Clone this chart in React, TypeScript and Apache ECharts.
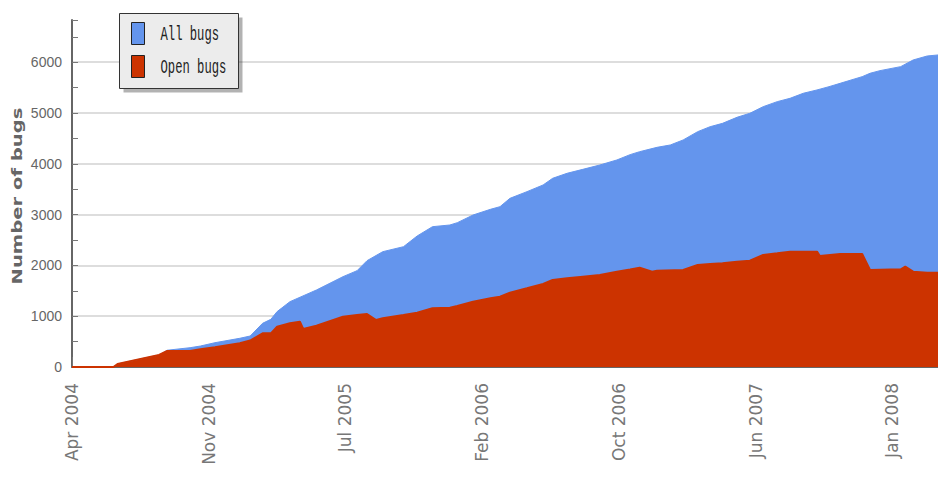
import React, { useEffect, useRef } from "react";
import * as echarts from "echarts";

const tickLabels = ["Apr 2004", "Nov 2004", "Jul 2005", "Feb 2006", "Oct 2006", "Jun 2007", "Jan 2008"];
const seriesNames = ["All bugs", "Open bugs"];

const allWeeks = [0, 10, 11, 16, 21, 23, 28.5, 31, 34.5, 40.5, 43, 46, 48, 49.5, 52.6, 59, 65.4, 68.8, 71.2, 75, 80, 83.3, 87, 91.2, 93, 96.8, 101, 103.3, 105.7, 109.8, 113.7, 116, 119.5, 123.3, 127.4, 131.5, 134.7, 137, 141.2, 144.4, 147.5, 151, 154, 157, 160.5, 163.6, 166.8, 170.2, 173.3, 176.5, 179.8, 182.7, 185.4, 190.7, 192.6, 195, 200, 203, 206.4, 209];
const allBugs = [0, 0, 60, 150, 236, 330, 380, 413, 478, 565, 610, 860, 939, 1090, 1286, 1516, 1778, 1896, 2093, 2270, 2368, 2579, 2762, 2795, 2841, 2992, 3104, 3156, 3320, 3451, 3583, 3714, 3813, 3891, 3976, 4075, 4180, 4238, 4324, 4370, 4469, 4632, 4730, 4796, 4915, 4994, 5124, 5223, 5289, 5388, 5453, 5518, 5584, 5715, 5781, 5833, 5912, 6043, 6122, 6142];

const openWeeks = [0, 10, 11, 16, 21, 23, 28.5, 31, 34.5, 40.5, 43, 46, 48, 49.5, 52.6, 55, 55.8, 59, 65.4, 68.8, 71.2, 73.4, 75, 80, 83.3, 87, 91.2, 93, 96.8, 101, 103.3, 105.7, 109.8, 113.7, 116, 119.5, 123.3, 127.4, 131.5, 134.7, 137, 140, 141.2, 147.5, 151, 154, 157, 160.5, 163.6, 166.8, 170.2, 173.3, 179.8, 180.5, 185.4, 190.7, 192.6, 200, 201.1, 203, 206.4, 209];
const openBugs = [0, 0, 60, 150, 236, 315, 315, 348, 388, 466, 520, 663, 663, 793, 860, 893, 748, 813, 990, 1024, 1043, 925, 958, 1024, 1069, 1155, 1168, 1200, 1286, 1352, 1384, 1463, 1549, 1634, 1713, 1746, 1778, 1811, 1876, 1920, 1955, 1876, 1896, 1909, 2008, 2028, 2041, 2073, 2093, 2205, 2238, 2270, 2270, 2185, 2224, 2224, 1909, 1923, 1975, 1876, 1856, 1856];

const BLUE = "#6495ED";
const RED = "#CC3300";
const COLORS = [BLUE, RED];

export default function App() {
  const ref = useRef<HTMLDivElement>(null);
  useEffect(() => {
    document.body.style.margin = "0";
    const chart = echarts.init(ref.current!, undefined, { renderer: "svg" });
    const allData = allWeeks.map((w, i) => [w, allBugs[i]]);
    const openData = openWeeks.map((w, i) => [w, openBugs[i]]);

    const legendItems: any[] = [];
    seriesNames.forEach((name, i) => {
      legendItems.push({
        type: "rect",
        z: 102,
        shape: { x: 12, y: 9 + i * 33, width: 13, height: 22 },
        style: { fill: COLORS[i], stroke: "#222", lineWidth: 1 },
      });
      legendItems.push({
        type: "text",
        z: 102,
        x: 41,
        y: 21 + i * 33,
        scaleX: 0.61,
        style: {
          text: name,
          fill: "#222",
          font: "20px 'Liberation Mono', 'DejaVu Sans Mono', monospace",
          textVerticalAlign: "middle",
          textAlign: "left",
        },
      });
    });

    chart.setOption({
      animation: false,
      backgroundColor: "#ffffff",
      grid: { left: 72, top: 20, right: 0, bottom: 118, containLabel: false, outerBoundsMode: "none" },
      graphic: [
        {
          type: "group",
          left: 119,
          top: 13,
          z: 100,
          children: [
            {
              type: "rect",
              z: 100,
              shape: { x: 4, y: 4, width: 119, height: 75 },
              style: { fill: "rgba(0,0,0,0.3)" },
            },
            {
              type: "rect",
              z: 101,
              shape: { x: 0, y: 0, width: 119, height: 75 },
              style: { fill: "#ececec", stroke: "#333", lineWidth: 1 },
            },
            ...legendItems,
          ],
        },
        {
          type: "text",
          x: 17,
          y: 196,
          rotation: Math.PI / 2,
          scaleX: 1.4,
          style: {
            text: "Number of bugs",
            fill: "#666",
            font: "bold 14px 'DejaVu Sans', sans-serif",
            textAlign: "center",
            textVerticalAlign: "middle",
          },
        },
      ],
      xAxis: {
        type: "value",
        min: 0,
        max: 209,
        interval: 33,
        axisLine: { show: true, lineStyle: { color: "#666", width: 2 } },
        axisTick: { show: true, inside: true, length: 10, lineStyle: { color: "#777", width: 1 } },
        splitLine: { show: false },
        axisLabel: {
          rotate: 90,
          margin: 16,
          color: "#777",
          fontFamily: "'DejaVu Sans', sans-serif",
          fontSize: 17,
          showMaxLabel: false,
          formatter: (v: number) => (v % 33 === 0 && tickLabels[v / 33] ? tickLabels[v / 33] : ""),
        },
      },
      yAxis: {
        type: "value",
        min: 0,
        max: 6830,
        interval: 1000,
        axisLine: { show: true, lineStyle: { color: "#666", width: 2 } },
        axisTick: { show: true, inside: true, length: 6, lineStyle: { color: "#777" } },
        minorTick: { show: true, splitNumber: 2, length: 6, lineStyle: { color: "#777" } },
        splitLine: { show: true, showMaxLine: false, lineStyle: { color: "#dddddd", width: 2 } },
        axisLabel: {
          color: "#666",
          margin: 10,
          fontFamily: "'Liberation Sans', sans-serif",
          fontSize: 14,
          formatter: (v: number) => (v % 1000 === 0 ? String(v) : ""),
        },
      },
      series: [
        {
          name: seriesNames[0],
          type: "line",
          data: allData,
          symbol: "none",
          itemStyle: { color: BLUE },
          lineStyle: { color: BLUE, width: 1 },
          areaStyle: { color: BLUE, opacity: 1 },
        },
        {
          name: seriesNames[1],
          type: "line",
          data: openData,
          symbol: "none",
          itemStyle: { color: RED },
          lineStyle: { color: RED, width: 2 },
          areaStyle: { color: RED, opacity: 1 },
        },
      ],
    });
    return () => chart.dispose();
  }, []);
  return <div ref={ref} style={{ width: 938, height: 485 }} />;
}
